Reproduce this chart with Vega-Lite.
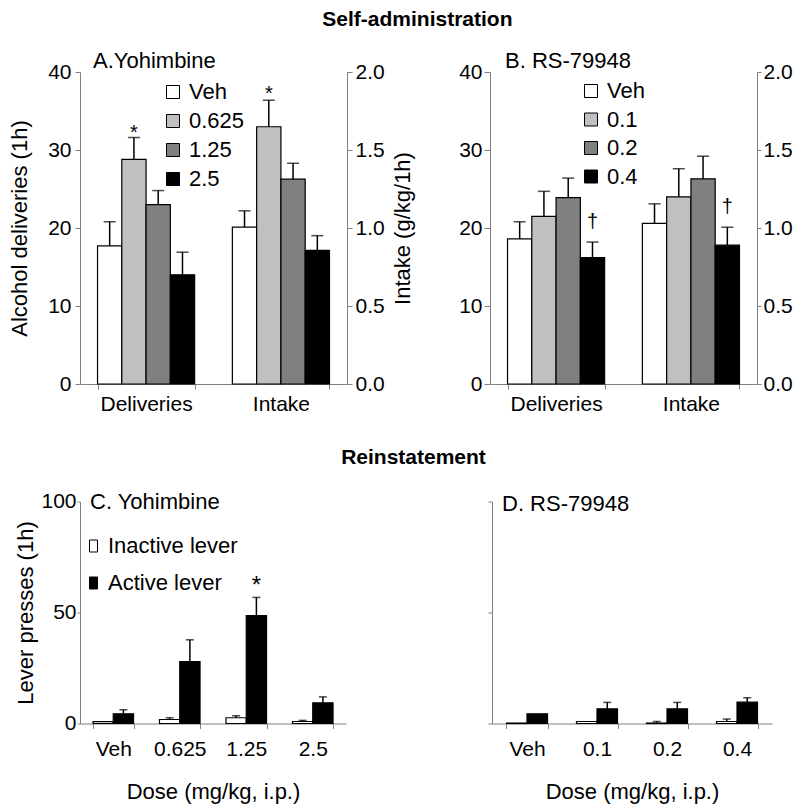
{
  "$schema": "https://vega.github.io/schema/vega-lite/v6.json",
  "autosize": {"type": "pad"},
  "padding": {"left": 8, "top": 8, "right": 5, "bottom": 5},
  "background": "white",
  "config": {
    "font": "Liberation Sans",
    "view": {"stroke": null},
    "axis": {"grid": false, "domainColor": "#808080", "tickColor": "#808080", "labelColor": "#000", "titleColor": "#000", "labelFontSize": 21, "titleFontSize": 22, "titleFontWeight": "normal"},
    "legend": {"labelColor": "#000", "labelFontSize": 22},
    "title": {"color": "#000"}
  },
  "spacing": 32.5,
  "resolve": {"scale": {"fill": "independent", "xOffset": "independent"}},
  "vconcat": [
    {
      "title": {"text": "Self-administration", "fontSize": 21, "fontWeight": "bold", "anchor": "middle", "dx": 17, "offset": 20},
      "bounds": "flush",
      "spacing": 143,
      "resolve": {"scale": {"fill": "independent", "xOffset": "independent"}},
      "hconcat": [
        {
          "width": 267,
          "height": 312,
          "title": {"text": "A.Yohimbine", "anchor": "start", "frame": "group", "dx": 13, "offset": -11.5, "fontSize": 22, "fontWeight": "normal"},
          "data": {"values": [
            {"measure": "Deliveries", "dose": "Veh", "value": 17.7, "upper": 20.8},
            {"measure": "Deliveries", "dose": "0.625", "value": 28.8, "upper": 31.6, "sig": "*"},
            {"measure": "Deliveries", "dose": "1.25", "value": 23.0, "upper": 24.8},
            {"measure": "Deliveries", "dose": "2.5", "value": 14.0, "upper": 16.9},
            {"measure": "Intake", "dose": "Veh", "value": 1.006, "upper": 1.11},
            {"measure": "Intake", "dose": "0.625", "value": 1.649, "upper": 1.819, "sig": "*"},
            {"measure": "Intake", "dose": "1.25", "value": 1.313, "upper": 1.415},
            {"measure": "Intake", "dose": "2.5", "value": 0.857, "upper": 0.951}
          ]},
          "encoding": {
            "x": {"field": "measure", "type": "nominal", "sort": ["Deliveries", "Intake"], "scale": {"paddingInner": 0.28, "paddingOuter": 0.13}, "axis": {"title": null, "labelAngle": 0, "tickBand": "extent", "tickSize": 5, "labelPadding": 4}},
            "xOffset": {"field": "dose", "type": "nominal", "sort": ["Veh", "0.625", "1.25", "2.5"]}
          },
          "layer": [
            {
              "transform": [{"filter": "datum.measure === 'Deliveries'"}],
              "layer": [
                {"mark": {"type": "bar", "stroke": "black", "strokeWidth": 1.2},
                 "encoding": {
                   "y": {"field": "value", "type": "quantitative", "title": "Alcohol deliveries (1h)", "scale": {"domain": [0, 40]}, "axis": {"orient": "left", "values": [0, 10, 20, 30, 40], "tickSize": 5, "labelPadding": 4, "titlePadding": 16}},
                   "fill": {"field": "dose", "type": "nominal", "scale": {"domain": ["Veh", "0.625", "1.25", "2.5"], "range": ["#ffffff", "#c0c0c0", "#808080", "#000000"]}, "legend": {"orient": "none", "legendX": 82, "legendY": 9, "title": null, "symbolType": "square", "symbolSize": 169, "symbolStrokeColor": "black", "symbolStrokeWidth": 1, "labelFontSize": 22, "rowPadding": 7, "labelOffset": 5, "padding": 0}}
                 }},
                {"mark": {"type": "rule", "color": "black", "strokeWidth": 1.5},
                 "encoding": {"y": {"field": "value", "type": "quantitative", "title": "Alcohol deliveries (1h)"}, "y2": {"field": "upper"}}},
                {"mark": {"type": "tick", "color": "black", "thickness": 1.5, "size": 12},
                 "encoding": {"y": {"field": "upper", "type": "quantitative", "title": "Alcohol deliveries (1h)"}}},
                {"transform": [{"filter": "datum.sig"}],
                 "mark": {"type": "text", "fontSize": 20, "dy": -5, "color": "black"},
                 "encoding": {"y": {"field": "upper", "type": "quantitative", "title": "Alcohol deliveries (1h)"}, "text": {"field": "sig"}}}
              ]
            },
            {
              "transform": [{"filter": "datum.measure === 'Intake'"}],
              "layer": [
                {"mark": {"type": "bar", "stroke": "black", "strokeWidth": 1.2},
                 "encoding": {
                   "y": {"field": "value", "type": "quantitative", "title": "Intake (g/kg/1h)", "scale": {"domain": [0, 2]}, "axis": {"orient": "right", "values": [0, 0.5, 1, 1.5, 2], "format": ".1f", "tickSize": 5, "labelPadding": 3, "titlePadding": 8, "titleAngle": 270, "titleBaseline": "top"}},
                   "fill": {"field": "dose", "type": "nominal", "scale": {"domain": ["Veh", "0.625", "1.25", "2.5"], "range": ["#ffffff", "#c0c0c0", "#808080", "#000000"]}, "legend": {"orient": "none", "legendX": 82, "legendY": 9, "title": null, "symbolType": "square", "symbolSize": 169, "symbolStrokeColor": "black", "symbolStrokeWidth": 1, "labelFontSize": 22, "rowPadding": 7, "labelOffset": 5, "padding": 0}}
                 }},
                {"mark": {"type": "rule", "color": "black", "strokeWidth": 1.5},
                 "encoding": {"y": {"field": "value", "type": "quantitative", "title": "Intake (g/kg/1h)"}, "y2": {"field": "upper"}}},
                {"mark": {"type": "tick", "color": "black", "thickness": 1.5, "size": 12},
                 "encoding": {"y": {"field": "upper", "type": "quantitative", "title": "Intake (g/kg/1h)"}}},
                {"transform": [{"filter": "datum.sig"}],
                 "mark": {"type": "text", "fontSize": 20, "dy": -6, "color": "black"},
                 "encoding": {"y": {"field": "upper", "type": "quantitative", "title": "Intake (g/kg/1h)"}, "text": {"field": "sig"}}}
              ]
            }
          ],
          "resolve": {"scale": {"y": "independent"}}
        },
        {
          "width": 267,
          "height": 312,
          "title": {"text": "B. RS-79948", "anchor": "start", "frame": "group", "dx": 15, "offset": -11.5, "fontSize": 22, "fontWeight": "normal"},
          "data": {"values": [
            {"measure": "Deliveries", "dose": "Veh", "value": 18.6, "upper": 20.8},
            {"measure": "Deliveries", "dose": "0.1", "value": 21.5, "upper": 24.7},
            {"measure": "Deliveries", "dose": "0.2", "value": 23.9, "upper": 26.4},
            {"measure": "Deliveries", "dose": "0.4", "value": 16.2, "upper": 18.2, "sig": "†"},
            {"measure": "Intake", "dose": "Veh", "value": 1.03, "upper": 1.155},
            {"measure": "Intake", "dose": "0.1", "value": 1.2, "upper": 1.38},
            {"measure": "Intake", "dose": "0.2", "value": 1.315, "upper": 1.46},
            {"measure": "Intake", "dose": "0.4", "value": 0.89, "upper": 1.005, "sig": "†"}
          ]},
          "encoding": {
            "x": {"field": "measure", "type": "nominal", "sort": ["Deliveries", "Intake"], "scale": {"paddingInner": 0.28, "paddingOuter": 0.13}, "axis": {"title": null, "labelAngle": 0, "tickBand": "extent", "tickSize": 5, "labelPadding": 4}},
            "xOffset": {"field": "dose", "type": "nominal", "sort": ["Veh", "0.1", "0.2", "0.4"]}
          },
          "layer": [
            {
              "transform": [{"filter": "datum.measure === 'Deliveries'"}],
              "layer": [
                {"mark": {"type": "bar", "stroke": "black", "strokeWidth": 1.2},
                 "encoding": {
                   "y": {"field": "value", "type": "quantitative", "title": null, "scale": {"domain": [0, 40]}, "axis": {"orient": "left", "values": [0, 10, 20, 30, 40], "tickSize": 6, "labelPadding": 2}},
                   "fill": {"field": "dose", "type": "nominal", "scale": {"domain": ["Veh", "0.1", "0.2", "0.4"], "range": ["#ffffff", "#c0c0c0", "#808080", "#000000"]}, "legend": {"orient": "none", "legendX": 90, "legendY": 8, "title": null, "symbolType": "square", "symbolSize": 169, "symbolStrokeColor": "black", "symbolStrokeWidth": 1, "labelFontSize": 22, "rowPadding": 6.5, "labelOffset": 5, "padding": 0}}
                 }},
                {"mark": {"type": "rule", "color": "black", "strokeWidth": 1.5},
                 "encoding": {"y": {"field": "value", "type": "quantitative", "title": null}, "y2": {"field": "upper"}}},
                {"mark": {"type": "tick", "color": "black", "thickness": 1.5, "size": 12},
                 "encoding": {"y": {"field": "upper", "type": "quantitative", "title": null}}},
                {"transform": [{"filter": "datum.sig"}],
                 "mark": {"type": "text", "fontSize": 20, "dy": -20, "color": "black"},
                 "encoding": {"y": {"field": "upper", "type": "quantitative", "title": null}, "text": {"field": "sig"}}}
              ]
            },
            {
              "transform": [{"filter": "datum.measure === 'Intake'"}],
              "layer": [
                {"mark": {"type": "bar", "stroke": "black", "strokeWidth": 1.2},
                 "encoding": {
                   "y": {"field": "value", "type": "quantitative", "title": null, "scale": {"domain": [0, 2]}, "axis": {"orient": "right", "values": [0, 0.5, 1, 1.5, 2], "format": ".1f", "tickSize": 4, "labelPadding": 2}},
                   "fill": {"field": "dose", "type": "nominal", "scale": {"domain": ["Veh", "0.1", "0.2", "0.4"], "range": ["#ffffff", "#c0c0c0", "#808080", "#000000"]}, "legend": {"orient": "none", "legendX": 90, "legendY": 8, "title": null, "symbolType": "square", "symbolSize": 169, "symbolStrokeColor": "black", "symbolStrokeWidth": 1, "labelFontSize": 22, "rowPadding": 6.5, "labelOffset": 5, "padding": 0}}
                 }},
                {"mark": {"type": "rule", "color": "black", "strokeWidth": 1.5},
                 "encoding": {"y": {"field": "value", "type": "quantitative", "title": null}, "y2": {"field": "upper"}}},
                {"mark": {"type": "tick", "color": "black", "thickness": 1.5, "size": 12},
                 "encoding": {"y": {"field": "upper", "type": "quantitative", "title": null}}},
                {"transform": [{"filter": "datum.sig"}],
                 "mark": {"type": "text", "fontSize": 20, "dy": -20, "color": "black"},
                 "encoding": {"y": {"field": "upper", "type": "quantitative", "title": null}, "text": {"field": "sig"}}}
              ]
            }
          ],
          "resolve": {"scale": {"y": "independent"}}
        }
      ]
    },
    {
      "title": {"text": "Reinstatement", "fontSize": 21, "fontWeight": "bold", "anchor": "middle", "dx": 20, "offset": 23},
      "bounds": "flush",
      "spacing": 146,
      "resolve": {"scale": {"fill": "independent", "xOffset": "independent"}},
      "hconcat": [
        {
          "width": 266,
          "height": 222,
          "title": {"text": "C. Yohimbine", "anchor": "start", "frame": "group", "dx": 10, "offset": -23, "fontSize": 22, "fontWeight": "normal"},
          "data": {"values": [
            {"dose": "Veh", "lever": "Inactive lever", "value": 0.8, "upper": null},
            {"dose": "Veh", "lever": "Active lever", "value": 4.4, "upper": 6.2},
            {"dose": "0.625", "lever": "Inactive lever", "value": 1.8, "upper": 2.6},
            {"dose": "0.625", "lever": "Active lever", "value": 27.9, "upper": 37.7},
            {"dose": "1.25", "lever": "Inactive lever", "value": 2.6, "upper": 3.5},
            {"dose": "1.25", "lever": "Active lever", "value": 48.6, "upper": 56.8, "sig": "*"},
            {"dose": "2.5", "lever": "Inactive lever", "value": 0.9, "upper": 1.4},
            {"dose": "2.5", "lever": "Active lever", "value": 9.3, "upper": 12.0}
          ]},
          "encoding": {
            "x": {"field": "dose", "type": "nominal", "sort": ["Veh", "0.625", "1.25", "2.5"], "scale": {"paddingInner": 0.39, "paddingOuter": 0.195}, "axis": {"title": "Dose (mg/kg, i.p.)", "labelAngle": 0, "tickBand": "extent", "tickSize": 5, "labelPadding": 10, "titlePadding": 21.5}},
            "xOffset": {"field": "lever", "type": "nominal", "sort": ["Inactive lever", "Active lever"]}
          },
          "layer": [
            {"mark": {"type": "bar", "stroke": "black", "strokeWidth": 1.2},
             "encoding": {
               "y": {"field": "value", "type": "quantitative", "title": "Lever presses (1h)", "scale": {"domain": [0, 100]}, "axis": {"values": [0, 50, 100], "tickSize": 3, "labelPadding": 1, "titlePadding": 3}},
               "fill": {"field": "lever", "type": "nominal", "scale": {"domain": ["Inactive lever", "Active lever"], "range": ["#ffffff", "#000000"]}, "legend": {"orient": "none", "legendX": 1, "legendY": 32, "title": null, "symbolType": "M-0.333,-0.5L0.333,-0.5L0.333,0.5L-0.333,0.5Z", "symbolSize": 576, "symbolStrokeColor": "black", "symbolStrokeWidth": 1, "labelFontSize": 22, "rowPadding": 13, "labelOffset": 2, "padding": 0}}
             }},
            {"mark": {"type": "rule", "color": "black", "strokeWidth": 1.5},
             "encoding": {"y": {"field": "value", "type": "quantitative", "title": "Lever presses (1h)"}, "y2": {"field": "upper"}}},
            {"mark": {"type": "tick", "color": "black", "thickness": 1.5, "size": 8},
             "encoding": {"y": {"field": "upper", "type": "quantitative", "title": "Lever presses (1h)"}}},
            {"transform": [{"filter": "datum.sig"}],
             "mark": {"type": "text", "fontSize": 24, "dy": -11, "color": "black"},
             "encoding": {"y": {"field": "upper", "type": "quantitative", "title": "Lever presses (1h)"}, "text": {"field": "sig"}}}
          ]
        },
        {
          "width": 280,
          "height": 222,
          "title": {"text": "D. RS-79948", "anchor": "start", "frame": "group", "dx": 10, "offset": -14.5, "fontSize": 22, "fontWeight": "normal"},
          "data": {"values": [
            {"dose": "Veh", "lever": "Inactive lever", "value": 0.2, "upper": null},
            {"dose": "Veh", "lever": "Active lever", "value": 4.4, "upper": null},
            {"dose": "0.1", "lever": "Inactive lever", "value": 0.9, "upper": null},
            {"dose": "0.1", "lever": "Active lever", "value": 6.6, "upper": 9.5},
            {"dose": "0.2", "lever": "Inactive lever", "value": 0.2, "upper": 0.9},
            {"dose": "0.2", "lever": "Active lever", "value": 6.6, "upper": 9.5},
            {"dose": "0.4", "lever": "Inactive lever", "value": 0.9, "upper": 2.0},
            {"dose": "0.4", "lever": "Active lever", "value": 9.6, "upper": 11.6}
          ]},
          "encoding": {
            "x": {"field": "dose", "type": "nominal", "sort": ["Veh", "0.1", "0.2", "0.4"], "scale": {"paddingInner": 0.414, "paddingOuter": 0.207}, "axis": {"title": "Dose (mg/kg, i.p.)", "labelAngle": 0, "tickBand": "extent", "tickSize": 5, "labelPadding": 10, "titlePadding": 21.5}},
            "xOffset": {"field": "lever", "type": "nominal", "sort": ["Inactive lever", "Active lever"]}
          },
          "layer": [
            {"mark": {"type": "bar", "stroke": "black", "strokeWidth": 1.2},
             "encoding": {
               "y": {"field": "value", "type": "quantitative", "title": null, "scale": {"domain": [0, 100]}, "axis": {"values": [0, 50, 100], "tickSize": 4, "labels": false}},
               "fill": {"field": "lever", "type": "nominal", "scale": {"domain": ["Inactive lever", "Active lever"], "range": ["#ffffff", "#000000"]}, "legend": null}
             }},
            {"mark": {"type": "rule", "color": "black", "strokeWidth": 1.5},
             "encoding": {"y": {"field": "value", "type": "quantitative", "title": null}, "y2": {"field": "upper"}}},
            {"mark": {"type": "tick", "color": "black", "thickness": 1.5, "size": 8},
             "encoding": {"y": {"field": "upper", "type": "quantitative", "title": null}}}
          ]
        }
      ]
    }
  ]
}
